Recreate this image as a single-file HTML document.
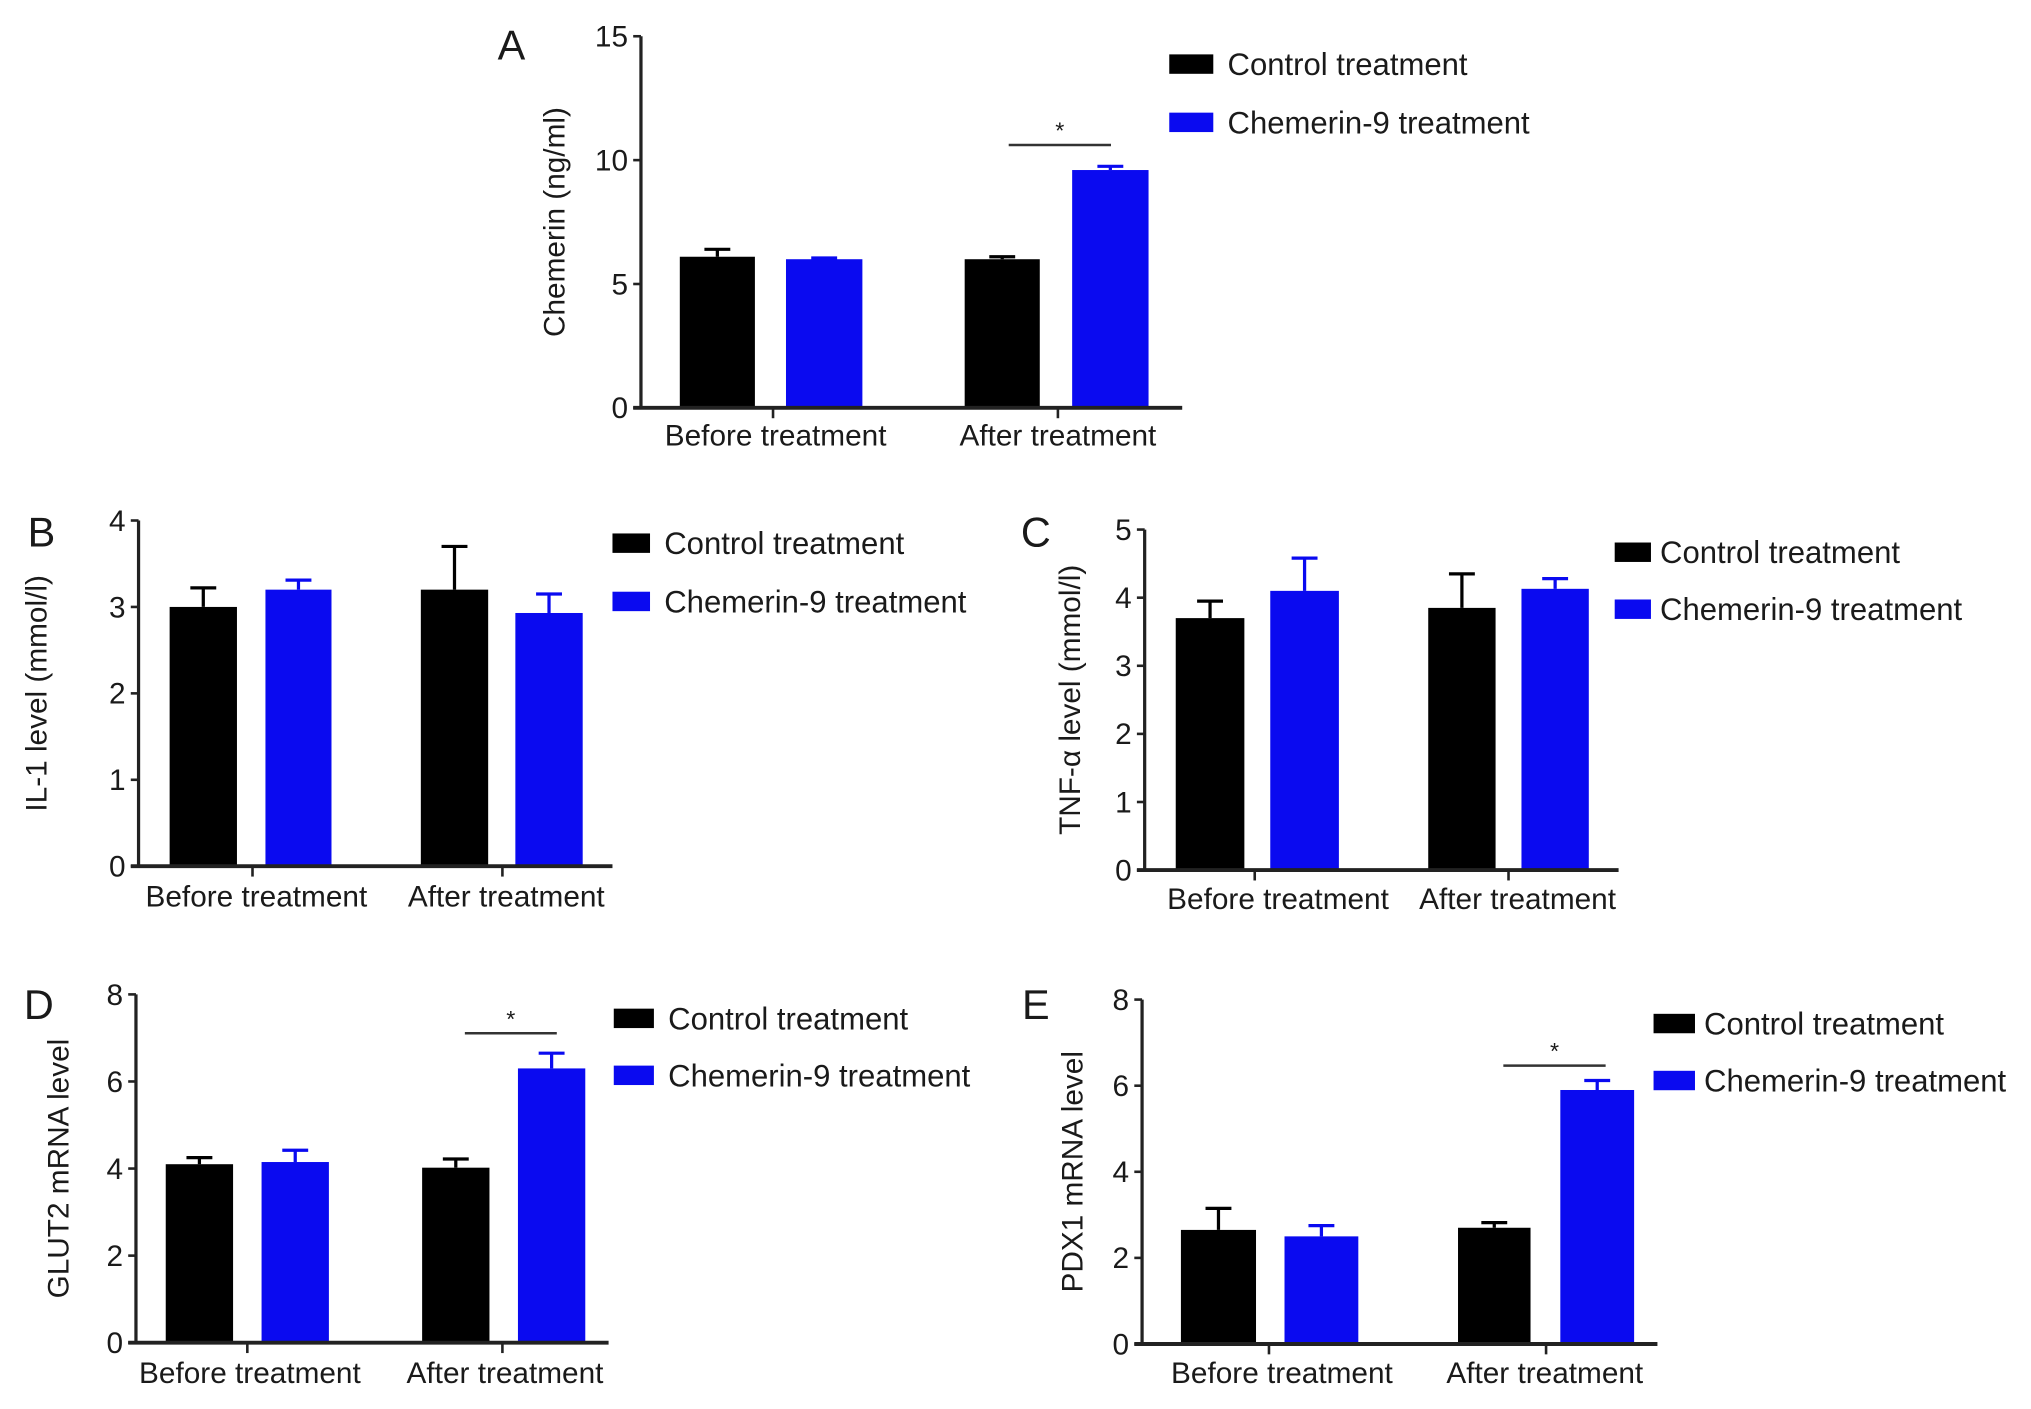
<!DOCTYPE html>
<html><head><meta charset="utf-8"><style>
html,body{margin:0;padding:0;background:#fff;}
svg{display:block;}
text{font-family:"Liberation Sans",sans-serif;fill:#1a1a1a;}
</style></head><body>
<svg id="fig" width="2031" height="1409" viewBox="0 0 1568.5 1088.2" preserveAspectRatio="none" xmlns="http://www.w3.org/2000/svg"></svg>
<script>
const categories = ["Before treatment", "After treatment"];
const seriesNames = ["Control treatment", "Chemerin-9 treatment"];
const aControl = [6.1, 6.0], aControlErr = [0.3, 0.1];
const aChem = [6.0, 9.6], aChemErr = [0.05, 0.15];
const aTicks = [0, 5, 10, 15];
const bControl = [3.0, 3.2], bControlErr = [0.22, 0.5];
const bChem = [3.2, 2.93], bChemErr = [0.11, 0.22];
const bTicks = [0, 1, 2, 3, 4];
const cControl = [3.7, 3.85], cControlErr = [0.25, 0.5];
const cChem = [4.1, 4.13], cChemErr = [0.48, 0.15];
const cTicks = [0, 1, 2, 3, 4, 5];
const dControl = [4.1, 4.02], dControlErr = [0.15, 0.2];
const dChem = [4.15, 6.3], dChemErr = [0.27, 0.35];
const dTicks = [0, 2, 4, 6, 8];
const eControl = [2.65, 2.7], eControlErr = [0.5, 0.12];
const eChem = [2.5, 5.9], eChemErr = [0.25, 0.22];
const eTicks = [0, 2, 4, 6, 8];

const NS = "http://www.w3.org/2000/svg";
const svg = document.getElementById('fig');
function mk(tag, attrs, parent, txt){
  const e = document.createElementNS(NS, tag);
  for (const k in attrs) e.setAttribute(k, attrs[k]);
  if (txt !== undefined) e.textContent = txt;
  (parent || svg).appendChild(e);
  return e;
}
const COLORS = ["#000000", "#0a0af0"];

const panels = [
 {id:'a', letter:'A', ctrl:aControl, ce:aControlErr, chem:aChem, he:aChemErr, ticks:aTicks, max:15,
  ax:495, top:28, bot:315, right:913, bars:[[525,583],[607,666],[745,803],[828,887]], catX:[599,817], catT:[597,817], catY:344,
  leg:[903,937,948,42,87], ylab:'Chemerin (ng/ml)', ylx:437, lx:395, ly:46, sig:[779,858,112]},
 {id:'b', letter:'B', ctrl:bControl, ce:bControlErr, chem:bChem, he:bChemErr, ticks:bTicks, max:4,
  ax:107, top:402, bot:669, right:473, bars:[[131,183],[205,256],[325,377],[398,450]], catX:[198,391], catT:[195,388], catY:700,
  leg:[473,502,513,412,457], ylab:'IL-1 level (mmol/l)', ylx:37, lx:32, ly:422},
 {id:'c', letter:'C', ctrl:cControl, ce:cControlErr, chem:cChem, he:cChemErr, ticks:cTicks, max:5,
  ax:884, top:409, bot:672, right:1250, bars:[[908,961],[981,1034],[1103,1155],[1175,1227]], catX:[987,1172], catT:[969,1165], catY:702,
  leg:[1247,1275,1282,419,463], ylab:'TNF-\u03b1 level (mmol/l)', ylx:835, lx:800, ly:422},
 {id:'d', letter:'D', ctrl:dControl, ce:dControlErr, chem:dChem, he:dChemErr, ticks:dTicks, max:8,
  ax:105, top:768, bot:1037, right:470, bars:[[128,180],[202,254],[326,378],[400,452]], catX:[193,390], catT:[191,388], catY:1068,
  leg:[474,505,516,779,823], ylab:'GLUT2 mRNA level', ylx:54, lx:30, ly:787, sig:[359,430,798]},
 {id:'e', letter:'E', ctrl:eControl, ce:eControlErr, chem:eChem, he:eChemErr, ticks:eTicks, max:8,
  ax:882, top:772, bot:1038, right:1280, bars:[[912,970],[992,1049],[1126,1182],[1205,1262]], catX:[990,1193], catT:[980,1194], catY:1068,
  leg:[1277,1309,1316,783,827], ylab:'PDX1 mRNA level', ylx:837, lx:800, ly:787, sig:[1161,1240,823]}
];

panels.forEach(p => {
  const g = mk('g', {});
  
  
  const y = v => p.bot - (p.bot - p.top) * v / p.max;
  const L = mk('text', {x:p.lx, y:p.ly, 'font-size':32, 'text-anchor':'middle'}, g, p.letter);
  
  
  const vals = [[p.ctrl[0], p.ce[0], 0], [p.chem[0], p.he[0], 1], [p.ctrl[1], p.ce[1], 0], [p.chem[1], p.he[1], 1]];
  vals.forEach((v, i) => {
    const [x0, x1] = p.bars[i];
    const col = COLORS[v[2]];
    const r = mk('rect', {x:x0, y:y(v[0]), width:x1 - x0, height:p.bot - y(v[0]), fill:col}, g);
    
    
    const cx = (x0 + x1) / 2;
    const eb = mk('path', {d:`M${cx} ${y(v[0])}V${y(v[0] + v[1])}M${cx - 10} ${y(v[0] + v[1])}H${cx + 10}`, stroke:col, 'stroke-width':2.5, fill:'none'}, g);
    
    
  });
  const yAx = mk('line', {x1:p.ax, y1:p.top, x2:p.ax, y2:p.bot, stroke:'#222', 'stroke-width':2.5}, g);
  
  
  const xAx = mk('line', {x1:p.ax - 6, y1:p.bot, x2:p.right, y2:p.bot, stroke:'#222', 'stroke-width':3}, g);
  
  
  p.ticks.forEach(t => {
    mk('line', {x1:p.ax - 6, y1:y(t), x2:p.ax, y2:y(t), stroke:'#222', 'stroke-width':2}, g);
    const tl = mk('text', {x:p.ax - 10, y:y(t) + 8, 'font-size':23, 'text-anchor':'end'}, g, t);
    
    
  });
  categories.forEach((c, i) => {
    mk('line', {x1:p.catT[i], y1:p.bot, x2:p.catT[i], y2:p.bot + 8, stroke:'#222', 'stroke-width':2}, g);
    const cl = mk('text', {x:p.catX[i], y:p.catY, 'font-size':23, 'text-anchor':'middle'}, g, c);
    
    
  });
  const yl = mk('text', {x:0, y:0, 'font-size':23, 'text-anchor':'middle', transform:`translate(${p.ylx - 1},${(p.top + p.bot) / 2}) rotate(-90)`}, g, p.ylab);
  
  
  seriesNames.forEach((s, i) => {
    const ly = p.leg[3 + i];
    const sw = mk('rect', {x:p.leg[0], y:ly, width:p.leg[1] - p.leg[0], height:15, fill:COLORS[i]}, g);
    
    
    const lt = mk('text', {x:p.leg[2], y:ly + 16, 'font-size':24}, g, s);
    
    
  });
  if (p.sig) {
    const sl = mk('line', {x1:p.sig[0], y1:p.sig[2], x2:p.sig[1], y2:p.sig[2], stroke:'#333', 'stroke-width':2}, g);
    
    
    const st = mk('text', {x:(p.sig[0] + p.sig[1]) / 2, y:p.sig[2] - 5, 'font-size':18, 'text-anchor':'middle', fill:'#555'}, g, '*');
    
    
  }
});
</script>
</body></html>
